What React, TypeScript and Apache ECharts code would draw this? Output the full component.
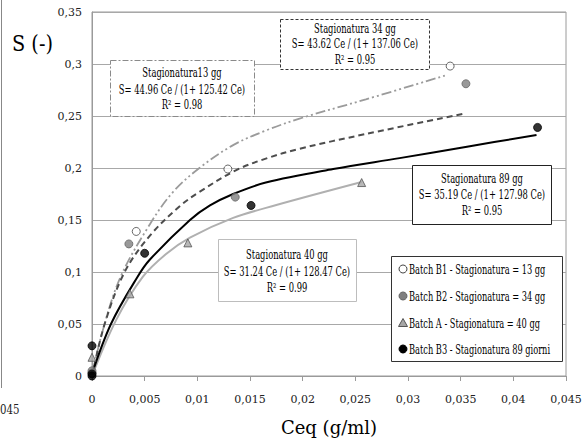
import React, { useEffect, useRef } from "react";
import * as echarts from "echarts";

const FONT = "DejaVu Serif";

// Scatter data (Ceq g/ml, S)
const batchB1 = [[0, 0.003], [0.0042, 0.139], [0.0129, 0.199], [0.034, 0.298]];
const batchB2 = [[0, 0.005], [0.0035, 0.127], [0.0136, 0.172], [0.0355, 0.281]];
const batchA = [[0, 0.018], [0.0036, 0.079], [0.0091, 0.128], [0.0256, 0.186]];
const batchB3 = [[0, 0.029], [0, 0.002], [0, 0.0], [0.005, 0.118], [0.0151, 0.164], [0.0423, 0.239]];

// Fitted curves
const curveB1 = [[0, 0], [0.001, 0.043], [0.0027, 0.095], [0.0055, 0.146], [0.0077, 0.177], [0.0102, 0.2], [0.0134, 0.222], [0.0165, 0.236], [0.0197, 0.2475], [0.026, 0.266], [0.0335, 0.2888]];
const curveB2 = [[0, 0], [0.0012, 0.05], [0.0031, 0.1], [0.0055, 0.135], [0.0083, 0.163], [0.0102, 0.177], [0.0137, 0.198], [0.0165, 0.209], [0.0197, 0.2185], [0.026, 0.2327], [0.0355, 0.2526]];
const curveA = [[0, 0], [0.0023, 0.054], [0.0048, 0.095], [0.007, 0.117], [0.0093, 0.133], [0.0134, 0.152], [0.0175, 0.1644], [0.0256, 0.1865]];
const curveB3 = [[0, 0.002], [0.0018, 0.05], [0.0043, 0.095], [0.0055, 0.112], [0.0093, 0.15], [0.0112, 0.164], [0.0134, 0.175], [0.0165, 0.186], [0.0229, 0.199], [0.0292, 0.2095], [0.0356, 0.2205], [0.0422, 0.2317]];

const seriesNames = [
  "Batch B1 - Stagionatura = 13 gg",
  "Batch B2 - Stagionatura = 34 gg",
  "Batch A - Stagionatura = 40 gg",
  "Batch B3 - Stagionatura 89 giorni",
];

const boxes = [
  { x: 110, y: 60, w: 144, h: 56, cx: 182, ys: [73, 90, 105], stroke: "#8a8a8a", dash: [6, 2, 2, 2],
    lines: ["Stagionatura13 gg", "S= 44.96 Ce / (1+ 125.42 Ce)", "R\u00b2 = 0.98"] },
  { x: 280, y: 19, w: 149, h: 50, cx: 355, ys: [29, 44, 60], stroke: "#333", dash: [3, 2],
    lines: ["Stagionatura 34 gg", "S= 43.62 Ce / (1+ 137.06 Ce)", "R\u00b2 = 0.95"] },
  { x: 412, y: 165, w: 139, h: 59, cx: 482, ys: [179, 195, 211], stroke: "#222", dash: null,
    lines: ["Stagionatura 89 gg", "S= 35.19 Ce / (1+ 127.98 Ce)", "R\u00b2 = 0.95"] },
  { x: 218, y: 239, w: 138, h: 62, cx: 287, ys: [255, 272, 288], stroke: "#bdbdbd", dash: null,
    lines: ["Stagionatura 40 gg", "S= 31.24 Ce / (1+ 128.47 Ce)", "R\u00b2 = 0.99"] },
];

const symbolStyles = [
  { fill: "#fff", stroke: "#444" },
  { fill: "#7f7f7f", stroke: "#666" },
  { fill: "#a6a6a6", stroke: "#555" },
  { fill: "#000", stroke: "#000" },
];

const fmt = (v: number) => String(parseFloat(v.toFixed(4))).replace(".", ",");

export default function App() {
  const ref = useRef<HTMLDivElement>(null);
  useEffect(() => {
    if (!ref.current) return;
    const chart = echarts.init(ref.current, null, { renderer: "svg" });

    const graphic: any[] = [
      { type: "line", z: 1, shape: { x1: 1.5, y1: 0, x2: 1.5, y2: 388 }, style: { stroke: "#888", lineWidth: 1 } },
      { type: "text", z: 1, x: 0, y: 410, scaleX: 0.85, style: { text: "045", fontFamily: FONT, fontSize: 12, fill: "#222", align: "left", verticalAlign: "middle" } },
      { type: "text", z: 1, x: 12, y: 43, scaleX: 0.84, style: { text: "S (-)", fontFamily: FONT, fontSize: 23, fill: "#000", align: "left", verticalAlign: "middle" } },
    ];
    boxes.forEach((b) => {
      graphic.push({
        type: "rect", z: 1,
        shape: { x: b.x + 0.5, y: b.y + 0.5, width: b.w, height: b.h },
        style: { fill: "#fff", stroke: b.stroke, lineWidth: 1, lineDash: b.dash || undefined },
      });
      b.lines.forEach((t, i) => {
        graphic.push({
          type: "text", z: 1, x: b.cx, y: b.ys[i], scaleX: 0.67,
          style: { text: t, fontFamily: FONT, fontSize: 12.5, fill: "#000", align: "center", verticalAlign: "middle" },
        });
      });
    });

    // Legend box (drawn to match the narrow serif lettering of the original)
    const legY = [269, 296, 323, 349];
    graphic.push({
      type: "rect", z: 5,
      shape: { x: 391.5, y: 256.5, width: 171, height: 105 },
      style: { fill: "#fff", stroke: "#333", lineWidth: 1 },
    });
    seriesNames.forEach((n, i) => {
      const cy = legY[i];
      const st = { fill: symbolStyles[i].fill, stroke: symbolStyles[i].stroke, lineWidth: 1 };
      if (i === 2) {
        graphic.push({ type: "polygon", z: 6, shape: { points: [[403, cy - 4.5], [398.5, cy + 3.5], [407.5, cy + 3.5]] }, style: st });
      } else {
        graphic.push({ type: "circle", z: 6, shape: { cx: 403, cy, r: 4 }, style: st });
      }
      graphic.push({
        type: "text", z: 6, x: 409, y: cy, scaleX: 0.66,
        style: { text: n, fontFamily: FONT, fontSize: 12.5, fill: "#000", align: "left", verticalAlign: "middle" },
      });
    });

    const lineBase = { type: "line", showSymbol: false, symbol: "none", smooth: 0.35, z: 2, silent: true };

    chart.setOption({
      animation: false,
      backgroundColor: "#fff",
      grid: {
        left: 92, right: 19, top: 12, bottom: 69,
        containLabel: false, outerBoundsMode: "none",
        show: true, borderColor: "#9a9a9a", borderWidth: 1,
      },
      xAxis: {
        type: "value", min: 0, max: 0.045, interval: 0.005,
        name: "Ceq (g/ml)", nameLocation: "middle", nameGap: 42,
        nameTextStyle: { fontFamily: FONT, fontSize: 18, color: "#000" },
        axisLine: { show: true, lineStyle: { color: "#9a9a9a" } },
        axisTick: { show: true, length: 5, lineStyle: { color: "#9a9a9a" } },
        splitLine: { show: false },
        axisLabel: { margin: 18, fontFamily: FONT, fontSize: 11, color: "#222", formatter: fmt },
      },
      yAxis: {
        type: "value", min: 0, max: 0.35, interval: 0.05,
        axisLine: { show: true, lineStyle: { color: "#9a9a9a" } },
        axisTick: { show: false },
        splitLine: { show: true, lineStyle: { color: "#a8a8a8", width: 1 } },
        axisLabel: { margin: 10, fontFamily: FONT, fontSize: 11, color: "#222", formatter: fmt },
      },
      graphic,
      series: [
        { ...lineBase, name: "fitB1", data: curveB1, lineStyle: { color: "#9b9b9b", width: 1.8, type: [10, 3, 2, 3, 2, 3] } },
        { ...lineBase, name: "fitB2", data: curveB2, lineStyle: { color: "#4d4d4d", width: 2, type: [6, 4] } },
        { ...lineBase, name: "fitA", data: curveA, lineStyle: { color: "#b0b0b0", width: 2 } },
        { ...lineBase, name: "fitB3", data: curveB3, lineStyle: { color: "#000", width: 2 } },
        { type: "scatter", name: seriesNames[0], data: batchB1, symbol: "circle", symbolSize: 8, z: 3,
          itemStyle: { color: symbolStyles[0].fill, borderColor: symbolStyles[0].stroke, borderWidth: 1 } },
        { type: "scatter", name: seriesNames[1], data: batchB2, symbol: "circle", symbolSize: 8, z: 3,
          itemStyle: { color: symbolStyles[1].fill, borderColor: symbolStyles[1].stroke, borderWidth: 1 } },
        { type: "scatter", name: seriesNames[2], data: batchA, symbol: "triangle", symbolSize: 8, z: 3,
          itemStyle: { color: symbolStyles[2].fill, borderColor: symbolStyles[2].stroke, borderWidth: 1 } },
        { type: "scatter", name: seriesNames[3], data: batchB3, symbol: "circle", symbolSize: 8, z: 3,
          itemStyle: { color: symbolStyles[3].fill, borderColor: symbolStyles[3].stroke, borderWidth: 1 } },
      ],
    });
    return () => chart.dispose();
  }, []);

  return (
    <div
      ref={ref}
      style={{ position: "absolute", left: 0, top: 0, width: 585, height: 445, background: "#fff" }}
    />
  );
}
